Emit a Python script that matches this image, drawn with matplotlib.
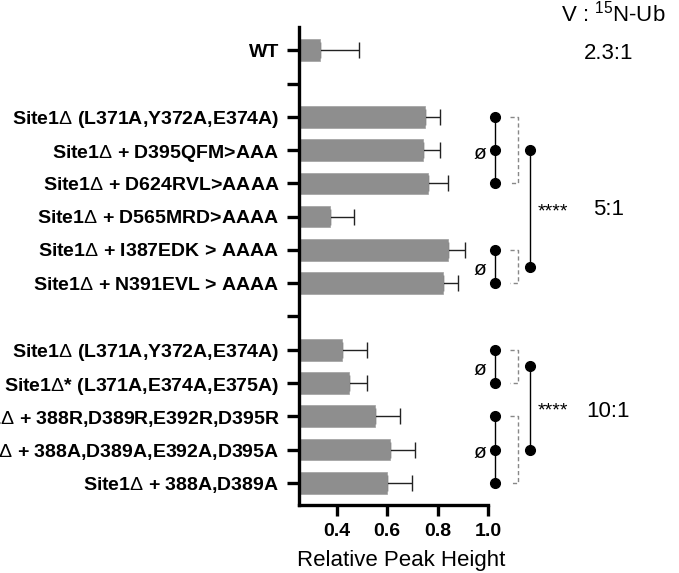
import numpy as np
import matplotlib
matplotlib.use("Agg")
import matplotlib.pyplot as plt
import matplotlib.transforms as mtransforms

plt.rcParams['font.family'] = ['Liberation Sans', 'DejaVu Sans']
plt.rcParams['mathtext.fontset'] = 'custom'
plt.rcParams['mathtext.rm'] = 'Liberation Sans'
plt.rcParams['mathtext.bf'] = 'Liberation Sans:bold'

# Rows from top to bottom ("" = empty spacer row)
labels = ["WT", "",
          r"Site1$\Delta$ (L371A,Y372A,E374A)",
          r"Site1$\Delta$ + D395QFM>AAA",
          r"Site1$\Delta$ + D624RVL>AAAA",
          r"Site1$\Delta$ + D565MRD>AAAA",
          r"Site1$\Delta$ + I387EDK > AAAA",
          r"Site1$\Delta$ + N391EVL > AAAA",
          "",
          r"Site1$\Delta$ (L371A,Y372A,E374A)",
          r"Site1$\Delta$* (L371A,E374A,E375A)",
          r"Site1$\Delta$ + 388R,D389R,E392R,D395R",
          r"Site1$\Delta$ + 388A,D389A,E392A,D395A",
          r"Site1$\Delta$ + 388A,D389A"]
values = [0.335, np.nan, 0.75, 0.74, 0.76, 0.375, 0.84, 0.82, np.nan,
          0.42, 0.45, 0.55, 0.61, 0.60]
errors = [0.155, np.nan, 0.06, 0.07, 0.08, 0.095, 0.07, 0.06, np.nan,
          0.10, 0.07, 0.10, 0.10, 0.10]

# not-significant groups (row indices) and the **** comparisons between them
ns_groups = [[2, 3, 4], [6, 7], [9, 10], [11, 12, 13]]
star_pairs = [(0, 1), (2, 3)]
ratio_labels = ["2.3:1", "5:1", "10:1"]
ratio_rows = [0.1, 4.8, 10.85]

fig = plt.figure(figsize=(6.79, 5.73), dpi=100)
ax = fig.add_axes([0.440, 0.119, 0.279, 0.834])

y = np.arange(len(labels))
ax.barh(y, values, height=0.65, color='#8e8e8e', edgecolor='#a0a0a0', linewidth=0.5, zorder=2)
ax.errorbar(values, y, xerr=[np.zeros(len(errors)), errors], fmt='none',
            ecolor='#222222', elinewidth=1.0, capsize=6, capthick=1.0, zorder=1)

ax.set_xlim(0.25, 1.0)
ax.set_ylim(13.66, -0.7)
ax.set_xticks([0.4, 0.6, 0.8, 1.0])
ax.set_xticklabels(["0.4", "0.6", "0.8", "1.0"], fontweight='bold', fontsize=14)
ax.set_yticks(y)
ax.set_yticklabels(labels, fontweight='bold', fontsize=14)
ax.set_xlabel("Relative Peak Height", fontsize=16)
ax.xaxis.set_label_coords(0.54, -0.095)

for s in ['top', 'right']:
    ax.spines[s].set_visible(False)
for s in ['left', 'bottom']:
    ax.spines[s].set_linewidth(2.4)
ax.tick_params(axis='y', length=9, width=2.4, pad=5)
ax.tick_params(axis='x', length=8, width=2.4, pad=5)

# significance annotations to the right of the axes
tr = mtransforms.blended_transform_factory(ax.transAxes, ax.transData)
centers = []
for g in ns_groups:
    ax.plot([1.037] * len(g), g, color='black', lw=1.0, marker='o', ms=7,
            transform=tr, clip_on=False)
    c = np.mean(g)
    centers.append(c)
    ax.text(0.958, c + 0.1, "ø", transform=tr, ha='center', va='center', fontsize=15)
    ax.plot([1.116, 1.159, 1.159, 1.116], [g[0], g[0], g[-1], g[-1]], color='#888888',
            lw=1.0, ls=(0, (3, 2)), transform=tr, clip_on=False)

for a, b in star_pairs:
    ax.plot([1.222, 1.222], [centers[a], centers[b]], color='black', lw=1.0, marker='o',
            ms=7, transform=tr, clip_on=False)
    ax.text(1.339, (centers[a] + centers[b]) / 2 + 0.1, "****", transform=tr,
            ha='center', va='center', fontsize=14)

for lab, r in zip(ratio_labels, ratio_rows):
    ax.text(1.635, r, lab, transform=tr, ha='center', va='center', fontsize=16)
ax.text(1.66, -1.1, r"V : $^{15}$N-Ub", transform=tr, ha='center', va='center', fontsize=16)

fig.savefig("out.png", dpi=100)
